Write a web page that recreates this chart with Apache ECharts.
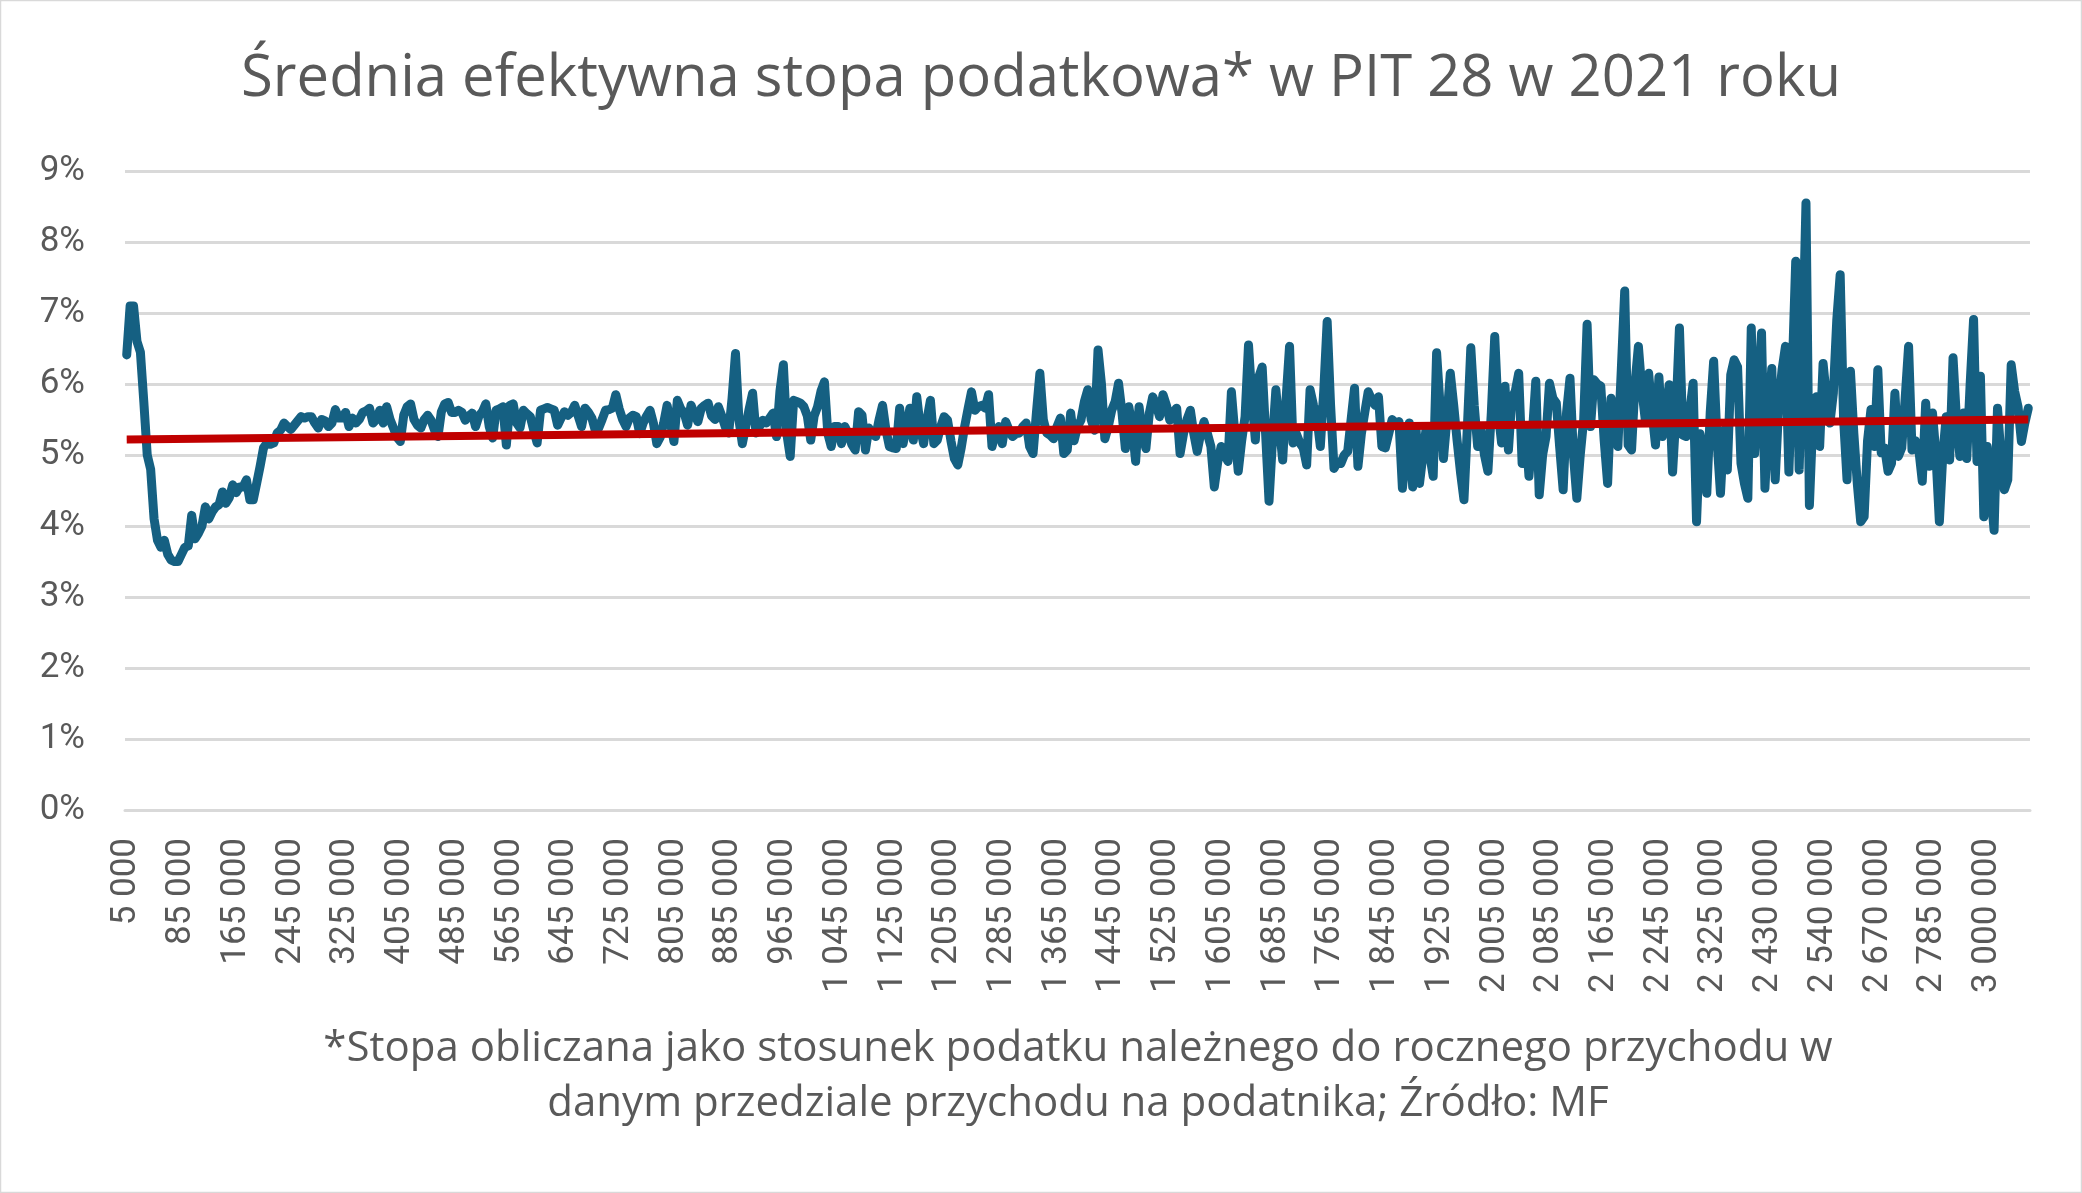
<!DOCTYPE html>
<html>
<head>
<meta charset="utf-8">
<title>Średnia efektywna stopa podatkowa w PIT 28</title>
<script src="https://cdn.jsdelivr.net/npm/echarts@6/dist/echarts.min.js"></script>
<style>
    html, body { margin: 0; padding: 0; background: #fff; }
    #pitchart { width: 2082px; height: 1193px; }
</style>
</head>
<body>
<div id="pitchart"></div>
<script>
    // przedziały przychodu: co 5 000 do 2 325 000, dalej nieregularnie
    var binFirst = 5000;
    var binLast = 2325000;
    var binStep = 5000;
    var tailBins = [
        2330000, 2335000, 2340000, 2345000, 2350000, 2355000, 2360000, 2370000, 2375000, 2385000,
        2390000, 2400000, 2405000, 2415000, 2420000, 2430000, 2435000, 2440000, 2450000, 2455000,
        2460000, 2470000, 2475000, 2480000, 2490000, 2495000, 2505000, 2510000, 2520000, 2525000,
        2535000, 2540000, 2545000, 2555000, 2560000, 2570000, 2575000, 2585000, 2590000, 2600000,
        2610000, 2615000, 2625000, 2635000, 2645000, 2650000, 2660000, 2670000, 2675000, 2680000,
        2690000, 2695000, 2705000, 2710000, 2720000, 2725000, 2735000, 2740000, 2750000, 2755000,
        2765000, 2770000, 2780000, 2785000, 2795000, 2805000, 2815000, 2830000, 2845000, 2855000,
        2870000, 2885000, 2895000, 2910000, 2925000, 2940000, 2955000, 2970000, 2985000, 3000000,
        3010000, 3025000, 3040000, 3060000, 3080000, 3100000, 3125000, 3150000, 3180000, 3210000,
        3250000, 3300000
    ];

    // średnia efektywna stopa (%) w kolejnych przedziałach
    var effectiveRate = [
        6.41, 7.1, 7.1, 6.6, 6.45, 5.75, 5.0, 4.8, 4.1, 3.8,
        3.7, 3.8, 3.6, 3.52, 3.5, 3.5, 3.6, 3.7, 3.72, 4.15,
        3.82, 3.9, 4.0, 4.27, 4.1, 4.2, 4.27, 4.3, 4.48, 4.32,
        4.4, 4.58, 4.47, 4.55, 4.55, 4.65, 4.37, 4.37, 4.6, 4.84,
        5.1, 5.17, 5.15, 5.17, 5.31, 5.35, 5.45, 5.4, 5.36, 5.42,
        5.48, 5.54, 5.52, 5.54, 5.54, 5.45, 5.38, 5.5, 5.48, 5.4,
        5.45, 5.64, 5.52, 5.52, 5.6, 5.4, 5.52, 5.45, 5.5, 5.6,
        5.62, 5.66, 5.45, 5.5, 5.63, 5.45, 5.68, 5.5, 5.38, 5.25,
        5.19, 5.56, 5.68, 5.72, 5.5, 5.42, 5.38, 5.5, 5.56, 5.49,
        5.35, 5.26, 5.61, 5.72, 5.74, 5.6, 5.6, 5.63, 5.6, 5.49,
        5.55, 5.59, 5.4, 5.55, 5.61, 5.72, 5.4, 5.24, 5.63, 5.65,
        5.68, 5.14, 5.7, 5.72, 5.45, 5.38, 5.63, 5.58, 5.54, 5.35,
        5.17, 5.63, 5.65, 5.67, 5.65, 5.63, 5.42, 5.52, 5.61, 5.56,
        5.6, 5.7, 5.55, 5.4, 5.66, 5.6, 5.52, 5.35, 5.38, 5.5,
        5.63, 5.64, 5.66, 5.85, 5.65, 5.5, 5.4, 5.52, 5.56, 5.54,
        5.3, 5.45, 5.55, 5.63, 5.45, 5.16, 5.25, 5.45, 5.7, 5.45,
        5.19, 5.77, 5.65, 5.59, 5.42, 5.7, 5.58, 5.47, 5.66, 5.7,
        5.73, 5.55, 5.5, 5.68, 5.55, 5.4, 5.31, 5.8, 6.43, 5.5,
        5.16, 5.4, 5.65, 5.87, 5.31, 5.4, 5.49, 5.45, 5.52, 5.59,
        5.26, 5.9, 6.27, 5.3, 4.98, 5.77, 5.75, 5.73, 5.68, 5.55,
        5.21, 5.55, 5.68, 5.9, 6.03, 5.3, 5.12, 5.4, 5.4, 5.16,
        5.4, 5.3, 5.15, 5.07, 5.61, 5.56, 5.07, 5.38, 5.3, 5.26,
        5.5, 5.7, 5.35, 5.12, 5.1, 5.09, 5.66, 5.16, 5.4, 5.66,
        5.21, 5.82, 5.4, 5.16, 5.5, 5.77, 5.16, 5.21, 5.4, 5.54,
        5.49, 5.2, 4.95, 4.86, 5.1, 5.4, 5.65, 5.89, 5.63, 5.68,
        5.7, 5.66, 5.85, 5.12, 5.3, 5.4, 5.16, 5.47, 5.35, 5.26,
        5.3, 5.31, 5.4, 5.45, 5.12, 5.02, 5.6, 6.15, 5.5, 5.31,
        5.28, 5.23, 5.4, 5.52, 5.02, 5.07, 5.59, 5.2, 5.4, 5.49,
        5.75, 5.92, 5.5, 5.35, 6.48, 6.0, 5.23, 5.4, 5.63, 5.75,
        6.01, 5.6, 5.09, 5.68, 5.4, 4.91, 5.68, 5.3, 5.09, 5.59,
        5.82, 5.7, 5.54, 5.85, 5.7, 5.49, 5.6, 5.66, 5.02, 5.3,
        5.5, 5.63, 5.3, 5.05, 5.3, 5.47, 5.3, 5.12, 4.55, 4.9,
        5.12, 5.0, 4.91, 5.89, 5.3, 4.77, 5.2, 5.54, 6.55, 5.8,
        5.21, 6.1, 6.24, 5.3, 4.35, 5.2, 5.92, 5.4, 4.93, 5.8,
        6.53, 5.17, 5.3, 5.17, 5.1, 4.86, 5.92, 5.7, 5.54, 5.12,
        5.9, 6.88, 5.7, 4.81, 4.9, 4.88, 5.0, 5.05, 5.5, 5.94,
        4.84, 5.3, 5.6, 5.89, 5.78, 5.7, 5.82, 5.12, 5.1, 5.3,
        5.5, 5.45, 5.47, 4.53, 5.0, 5.45, 4.55, 5.35, 4.6, 5.0,
        5.4, 5.0, 4.7, 6.44, 5.7, 4.95, 5.5, 6.15, 5.7, 5.2,
        4.75, 4.37, 5.4, 6.51, 5.7, 5.12, 5.35, 5.0, 4.77, 5.6,
        6.67, 5.6, 5.17, 5.97, 5.07, 5.8, 5.9, 6.15, 4.88, 5.4,
        4.7, 5.3, 6.04, 4.44, 5.0, 5.26, 6.01, 5.8, 5.73, 5.1,
        4.51, 5.6, 6.08, 5.0, 4.39, 5.0, 5.5, 6.84, 5.4, 6.06,
        6.0, 5.97, 5.2, 4.6, 5.8, 5.5, 5.12, 6.2, 7.31, 5.14,
        5.07, 6.0, 6.53, 5.92, 5.5, 6.15, 5.6, 5.14, 6.1, 5.26,
        5.6, 5.99, 4.76, 5.6, 6.79, 5.28, 5.26, 5.6, 6.01, 4.06,
        5.3, 5.0, 4.46, 5.6, 6.32, 5.2, 4.46, 5.35, 4.79, 6.13,
        6.34, 6.24, 4.88, 4.6, 4.39, 6.79, 5.02, 5.8, 6.72, 4.53,
        5.5, 6.22, 4.65, 5.68, 6.2, 6.53, 4.76, 6.2, 7.73, 4.79,
        6.5, 8.55, 4.29, 5.5, 5.82, 5.12, 6.29, 5.8, 5.45, 5.87,
        6.9, 7.54, 5.5, 4.65, 6.18, 5.3, 4.6, 4.06, 4.13, 5.2,
        5.64, 5.12, 6.2, 5.03, 5.1, 4.77, 4.88, 5.87, 4.98, 5.1,
        5.8, 6.53, 5.07, 5.2, 5.07, 4.63, 5.73, 4.84, 5.59, 5.0,
        4.06, 5.0, 5.54, 4.93, 6.37, 5.5, 4.98, 5.59, 4.95, 6.0,
        6.91, 4.91, 6.11, 4.13, 5.12, 4.5, 3.94, 5.66, 5.0, 4.51,
        4.65, 6.27, 5.9, 5.68, 5.19, 5.45, 5.66
    ];

    // liniowa linia trendu (Excel) - wartość na początku i na końcu osi
    var trendStart = 5.22;
    var trendEnd = 5.50;

    var yTicks = [0, 1, 2, 3, 4, 5, 6, 7, 8, 9];

    var titleText = 'Średnia efektywna stopa podatkowa* w PIT 28 w 2021 roku';
    var noteText = '*Stopa obliczana jako stosunek podatku należnego do rocznego przychodu w\ndanym przedziale przychodu na podatnika; Źródło: MF';

    var incomeBins = [];
    for (var v = binFirst; v <= binLast; v += binStep) {
        incomeBins.push(v);
    }
    incomeBins = incomeBins.concat(tailBins);

    var trendData = effectiveRate.map(function (d, i) {
        if (i === 0) return trendStart;
        if (i === effectiveRate.length - 1) return trendEnd;
        return null;
    });

    function spaced(n) {
        return String(n).replace(/\B(?=(\d{3})+(?!\d))/g, ' ');
    }

    var textColor = '#595959';
    var labelFont = 'Roboto';
    var headFont = '"Open Sans"';

    var chart = echarts.init(document.getElementById('pitchart'), null, { renderer: 'canvas' });

    var option = {
        backgroundColor: '#ffffff',
        animation: false,
        title: {
            text: titleText,
            left: 'center',
            top: 45,
            textStyle: {
                color: textColor,
                fontFamily: headFont,
                fontWeight: 'normal',
                fontSize: 58
            }
        },
        grid: {
            left: 125,
            right: 52,
            top: 171,
            bottom: 383,
            containLabel: false
        },
        xAxis: {
            type: 'category',
            data: incomeBins,
            boundaryGap: true,
            axisLine: { show: true, lineStyle: { color: '#d9d9d9', width: 3 } },
            axisTick: { show: false },
            axisLabel: {
                interval: 15,
                rotate: 90,
                margin: 28,
                color: textColor,
                fontFamily: labelFont,
                fontSize: 35,
                formatter: function (val) { return spaced(val); }
            },
            splitLine: { show: false }
        },
        yAxis: {
            type: 'value',
            min: yTicks[0],
            max: yTicks[yTicks.length - 1],
            interval: 1,
            axisLine: { show: false },
            axisTick: { show: false },
            axisLabel: {
                margin: 40,
                color: textColor,
                fontFamily: labelFont,
                fontSize: 35,
                formatter: '{value}%'
            },
            splitLine: { lineStyle: { color: '#d9d9d9', width: 3 } }
        },
        graphic: [
            {
                type: 'rect',
                silent: true,
                shape: { x: 0.5, y: 0.5, width: 2081, height: 1192 },
                style: { fill: 'none', stroke: '#d9d9d9', lineWidth: 1.5 }
            },
            {
                type: 'text',
                silent: true,
                x: 1078,
                y: 1022,
                style: {
                    text: noteText,
                    fill: textColor,
                    font: '42px "Open Sans"',
                    textAlign: 'center',
                    textVerticalAlign: 'top',
                    lineHeight: 55
                }
            }
        ],
        series: [
            {
                name: 'Stopa',
                type: 'line',
                data: effectiveRate,
                symbol: 'none',
                lineStyle: { color: '#156082', width: 9, cap: 'round', join: 'round' },
                itemStyle: { color: '#156082' },
                z: 2
            },
            {
                name: 'Trend',
                type: 'line',
                data: trendData,
                connectNulls: true,
                symbol: 'none',
                lineStyle: { color: '#c00000', width: 8 },
                itemStyle: { color: '#c00000' },
                z: 3
            }
        ]
    };

    chart.setOption(option);
</script>
</body>
</html>
